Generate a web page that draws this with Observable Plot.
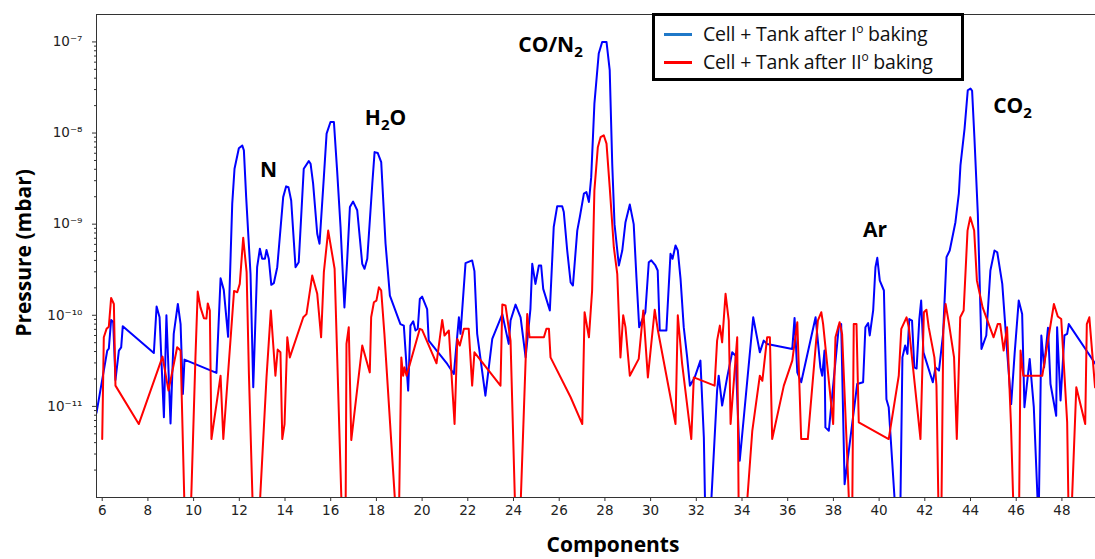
<!DOCTYPE html>
<html>
<head>
<meta charset="utf-8">
<script src="https://cdn.jsdelivr.net/npm/d3@7"></script>
<script src="https://cdn.jsdelivr.net/npm/@observablehq/plot@0.6"></script>
<style>
  body { margin: 0; background: #fff; }
  #chart { position: relative; width: 1095px; height: 559px; overflow: hidden; }
  #legend { position: absolute; left: 652px; top: 13px; width: 306px; height: 62px; border: 3px solid #000; background: #fff;
            font-family: "Open Sans", sans-serif; font-size: 19.5px; color: #111; }
  #legend .row { position: absolute; left: 0; height: 26px; }
  #legend .sw { position: absolute; left: 9px; width: 28px; height: 3px; }
  #legend .lab { position: absolute; left: 48px; top: 0; line-height: 26px; white-space: nowrap; letter-spacing: -0.2px; }
  #legend .sup { font-size: 12px; position: relative; top: -8px; }
</style>
</head>
<body>
<div id="chart"></div>
<script>
// ---- data ----
const seriesNames = ["Cell + Tank after I|o| baking", "Cell + Tank after II|o| baking"];
const seriesColors = ["#0000ff", "#ff0000"];
const legendColors = ["#1f78c8", "#ff0000"];

const blueMass = [5.75,6.22,6.29,6.39,6.48,6.58,6.73,6.83,6.90,8.26,
  8.38,8.51,8.70,8.81,8.99,9.13,9.31,9.43,9.53,9.60,
  11.00,11.18,11.32,11.51,11.69,11.79,11.98,12.13,12.20,12.30,
  12.49,12.61,12.78,12.90,13.00,13.12,13.19,13.29,13.40,13.51,
  13.66,13.92,14.05,14.15,14.27,14.46,14.60,14.82,15.04,15.12,
  15.23,15.41,15.51,15.70,15.82,15.99,16.14,16.28,16.43,16.60,
  16.72,16.84,16.98,17.16,17.38,17.48,17.60,17.82,17.92,18.06,
  18.21,18.40,18.59,19.05,19.20,19.39,19.49,19.61,19.71,19.81,
  19.90,20.00,20.22,20.29,21.10,21.39,21.61,21.68,21.90,22.19,
  22.29,22.41,22.77,23.07,23.51,23.79,23.87,24.09,24.31,24.53,
  24.74,24.82,24.96,25.11,25.21,25.30,25.59,25.76,25.91,26.13,
  26.20,26.35,26.50,26.60,26.79,26.90,27.08,27.19,27.30,27.40,
  27.54,27.73,27.88,28.07,28.21,28.32,28.42,28.61,28.76,28.90,
  29.09,29.26,29.38,29.50,29.77,29.92,30.03,30.21,30.31,30.40,
  30.69,30.87,30.96,31.09,31.19,31.31,31.45,31.60,31.72,31.93,
  32.18,32.33,32.40,32.60,32.91,32.98,33.13,33.35,33.57,33.72,
  33.90,34.49,34.78,34.95,35.10,36.20,36.30,36.42,36.59,37.22,
  37.43,37.51,37.61,37.65,37.80,38.24,38.34,38.49,39.04,39.30,
  39.40,39.52,39.59,39.74,39.84,39.92,40.03,40.21,40.32,40.42,
  40.75,40.92,41.02,41.14,41.24,41.32,41.44,41.54,41.64,41.76,
  41.84,41.94,42.35,42.47,42.62,42.80,42.95,43.09,43.34,43.49,
  43.56,43.74,43.88,44.00,44.07,44.17,44.32,44.48,44.69,44.87,
  45.05,45.17,45.39,45.61,45.78,45.93,46.11,46.26,46.36,46.59,
  46.77,46.98,47.10,47.22,47.39,47.50,47.75,47.79,47.94,48.11,
  48.23,48.30,49.47];
const bluePressure = [8.5e-12,4.1e-11,4.3e-11,8.9e-11,8.5e-11,1.95e-11,4.1e-11,4.45e-11,7.6e-11,3.85e-11,
  1.25e-10,9.5e-11,7.6e-12,1.0e-10,6.5e-12,6.25e-11,1.33e-10,8.0e-11,1.37e-11,3.26e-11,
  2.33e-11,2.55e-10,1.9e-10,5.8e-11,1.67e-9,4.06e-9,6.8e-9,7.3e-9,6.45e-9,1.98e-9,
  2.85e-10,1.62e-11,3.37e-10,5.37e-10,4.17e-10,4.17e-10,5.2e-10,4.17e-10,2.16e-10,2.25e-10,
  3.37e-10,1.98e-9,2.6e-9,2.55e-9,1.82e-9,3.37e-10,3.82e-10,4.06e-9,4.92e-9,4.6e-9,
  2.78e-9,7.85e-10,6.1e-10,3.28e-9,9.85e-9,1.32e-8,1.32e-8,3.89e-9,9.3e-10,1.22e-10,
  4.0e-10,1.54e-9,1.77e-9,1.42e-9,3.67e-10,3.24e-10,4.17e-10,2.78e-9,6.18e-9,6.03e-9,
  4.8e-9,6.1e-10,1.64e-10,8.0e-11,7.7e-11,1.49e-11,7.7e-11,8.6e-11,6.8e-11,7.1e-11,
  1.51e-10,1.6e-10,1.17e-10,5.27e-11,2.92e-11,2.27e-11,9.5e-11,6.25e-11,3.73e-10,4.0e-10,
  3.05e-10,6.25e-11,1.31e-11,5.5e-11,1.03e-10,4.85e-11,8.75e-11,1.31e-10,9.5e-11,3.45e-11,
  1.17e-10,3.67e-10,2.21e-10,3.52e-10,3.52e-10,1.95e-10,1.13e-10,9.3e-10,1.57e-9,1.57e-9,
  1.36e-9,5.14e-10,2.29e-10,2.12e-10,8.5e-10,1.19e-9,2.16e-9,2.25e-9,1.75e-9,3.28e-9,
  2.1e-8,7.46e-8,1.0e-7,1.0e-7,4.89e-8,4.6e-9,1.0e-9,3.52e-10,5.14e-10,1.05e-9,
  1.64e-9,1.0e-9,2.6e-10,7.4e-11,1.08e-10,3.82e-10,4.0e-10,3.52e-10,3.1e-10,6.8e-11,
  6.8e-11,4.73e-10,4.17e-10,5.83e-10,5.14e-10,2.51e-10,7.4e-11,3.45e-11,1.69e-11,2.08e-11,
  3.18e-11,4.56e-12,5e-13,5e-13,1.49e-11,2.17e-11,1.02e-11,2.08e-11,3.92e-11,3.6e-11,
  2.53e-12,9.5e-11,3.92e-11,5.27e-11,4.85e-11,4.27e-11,9.35e-11,2.36e-11,1.84e-11,9.5e-11,
  2.68e-11,2.17e-11,4.1e-11,5.88e-12,5.4e-12,7.7e-11,8.0e-11,1.4e-12,1.76e-11,1.84e-11,
  7.4e-11,8.2e-11,6.0e-11,1.13e-10,3.37e-10,4.27e-10,2.4e-10,1.87e-10,1.2e-11,9.8e-12,
  5e-13,5e-13,3.45e-11,4.65e-11,3.77e-11,9.1e-11,8.75e-11,2.68e-11,2.6e-11,9.1e-11,
  1.45e-10,3.92e-11,1.84e-11,2.68e-11,2.47e-11,6.25e-11,4.34e-10,5.14e-10,1.05e-9,2.16e-9,
  4.42e-9,1.12e-8,2.95e-8,3.08e-8,2.9e-8,9.0e-9,1.3e-9,4.27e-11,6.0e-11,3.1e-10,
  5.14e-10,4.92e-10,2.21e-10,3.77e-11,1.06e-11,3.77e-11,1.45e-10,1.03e-10,9.8e-12,3.32e-11,
  9.8e-12,5e-13,6.0e-11,2.68e-11,7.3e-11,1.76e-11,7.9e-12,7.4e-11,1.16e-11,6.0e-11,
  6.25e-11,8.0e-11,2.92e-11];

const redMass = [6.00,6.07,6.19,6.29,6.39,6.51,6.58,7.60,8.64,8.90,
  9.28,9.43,9.62,9.86,10.08,10.18,10.30,10.45,10.56,10.62,
  10.71,10.78,11.18,11.30,11.77,11.91,12.02,12.17,12.32,12.42,
  12.61,12.85,13.19,13.38,13.58,13.68,13.80,13.88,13.98,14.10,
  14.21,14.80,14.94,15.19,15.41,15.58,15.70,15.89,16.17,16.50,
  16.65,16.69,16.79,16.90,17.38,17.71,17.77,17.89,18.00,18.11,
  18.21,18.35,18.88,18.98,19.09,19.17,19.23,19.32,19.90,20.00,
  20.63,20.88,20.98,21.17,21.42,21.54,21.65,21.83,22.04,22.19,
  22.29,23.43,23.51,23.65,23.87,24.09,24.28,24.60,24.70,25.33,
  25.44,25.55,25.62,26.50,27.01,27.11,27.30,27.44,27.54,27.69,
  27.81,27.95,28.07,28.21,28.39,28.54,28.68,28.80,28.90,29.09,
  29.48,29.68,29.88,30.18,30.32,31.09,31.19,31.38,31.78,31.89,
  32.80,32.91,33.03,33.13,33.28,33.42,33.50,33.79,33.86,34.15,
  34.45,34.78,34.89,35.10,35.22,35.32,35.83,36.20,36.42,36.59,
  36.88,37.32,37.47,37.55,37.99,38.09,38.27,38.38,38.60,38.72,
  38.82,38.89,39.01,39.11,40.42,40.86,40.97,41.20,41.30,41.81,
  41.96,42.07,42.17,42.42,42.51,42.61,42.72,42.81,42.91,43.06,
  43.28,43.40,43.55,43.70,43.87,43.99,44.16,44.28,44.53,45.01,
  45.19,45.30,45.45,45.60,45.77,45.90,46.12,46.19,46.31,47.14,
  47.65,47.82,47.97,48.23,48.30,48.40,48.63,49.02,49.09,49.20,
  49.45];
const redPressure = [4.38e-12,5.73e-11,7.1e-11,7.5e-11,1.55e-10,1.33e-10,1.69e-11,6.4e-12,3.52e-11,1.49e-11,
  4.45e-11,4.1e-11,5e-13,5e-13,3.43e-11,1.82e-10,1.22e-10,9.3e-11,9.2e-11,1.35e-10,
  1.13e-10,4.38e-12,2.17e-11,4.38e-12,1.85e-10,1.79e-10,2.21e-10,7.1e-10,2.97e-10,2.27e-11,
  5e-13,5e-13,2.08e-11,1.13e-10,2.17e-11,4.2e-11,3.92e-11,4.38e-12,6.4e-12,5.73e-11,
  3.45e-11,9.5e-11,1.03e-10,2.73e-10,1.72e-10,5.73e-11,2.97e-10,8.5e-10,3.24e-10,5e-13,
  5e-13,4.85e-11,7.4e-11,4.27e-12,4.65e-11,2.36e-11,9.5e-11,1.39e-10,1.45e-10,2.03e-10,
  1.87e-10,6.25e-11,5e-13,5e-13,3.45e-11,2.17e-11,2.68e-11,2.17e-11,7.1e-11,6.9e-11,
  2.97e-11,8.9e-11,6.0e-11,6.8e-11,6.4e-12,5.5e-11,4.65e-11,7.1e-11,7.1e-11,1.69e-11,
  3.92e-11,1.69e-11,1.31e-10,1.28e-10,5.27e-11,5e-13,5e-13,1.03e-10,5.73e-11,5.73e-11,
  7.1e-11,7.1e-11,3.45e-11,1.26e-11,6.4e-12,1.08e-10,5.73e-11,1.87e-10,2.35e-9,7.0e-9,
  9.0e-9,9.45e-9,7.65e-9,2.55e-9,5.58e-10,2.85e-10,3.45e-11,1.0e-10,7.4e-11,2.17e-11,
  3.32e-11,1.13e-10,2.08e-11,1.15e-10,6.8e-11,6.4e-12,1.0e-10,2.92e-11,4.38e-12,2.08e-11,
  1.69e-11,5.27e-11,7.7e-11,5.05e-11,1.72e-10,8.75e-11,6.4e-12,5.73e-11,5e-13,5e-13,
  5.4e-12,2.17e-11,1.91e-11,5.73e-11,5.73e-11,4.38e-12,1.69e-11,3.18e-11,8.4e-11,4.38e-12,
  4.38e-12,8.75e-11,1.08e-10,8.0e-11,6.4e-12,5.73e-11,8.4e-11,6.25e-11,3.0e-12,5e-13,
  5e-13,8.0e-11,8.0e-11,6.67e-12,4.38e-12,2.17e-11,7.1e-11,9.5e-11,7.4e-11,4.38e-12,
  1.08e-10,1.15e-10,7.4e-11,3.45e-11,1.69e-11,5e-13,5e-13,6.8e-11,1.33e-10,8.0e-11,
  3.45e-11,4.38e-12,9.5e-11,1.13e-10,8.5e-10,1.19e-9,8.5e-10,2.4e-10,1.22e-10,5.73e-11,
  8.0e-11,8.0e-11,4.1e-11,7.4e-11,6.4e-12,5e-13,5e-13,4.1e-11,2.17e-11,2.17e-11,
  1.33e-10,9.7e-11,9.1e-11,6.67e-12,5e-13,5e-13,1.62e-11,6.4e-12,8.0e-11,9.5e-11,
  1.62e-11];

const peakLabels = ["N", "H₂O", "CO/N₂", "Ar", "CO₂"];
const peakMass = [13.28, 18.40, 25.62, 39.82, 45.84];
const peakPressure = [3.9e-9, 1.45e-8, 9.2e-8, 8.5e-10, 1.96e-8];

const xTicks = [6,8,10,12,14,16,18,20,22,24,26,28,30,32,34,36,38,40,42,44,46,48];
const yTicks = [1e-11, 1e-10, 1e-9, 1e-8, 1e-7];
const minorMultipliers = [2,3,4,5,6,7,8,9];
const xLabel = "Components";
const yLabel = "Pressure (mbar)";

// ---- build tables ----
const blue = blueMass.map((m, i) => ({mass: m, p: bluePressure[i]}));
const red = redMass.map((m, i) => ({mass: m, p: redPressure[i]}));
const peaks = peakLabels.map((t, i) => ({t, mass: peakMass[i], p: peakPressure[i]}));
const minorTicks = [1e-12, ...yTicks].flatMap(d => minorMultipliers.map(k => k * d)).filter(v => v < 2e-7);

const sup = {"-": "⁻", "0": "⁰", "1": "¹", "2": "²", "3": "³", "4": "⁴", "5": "⁵", "6": "⁶", "7": "⁷", "8": "⁸", "9": "⁹"};
const fmtPow = d => "10" + String(Math.round(Math.log10(d))).split("").map(c => sup[c]).join("");

const chart = Plot.plot({
  width: 1095,
  height: 559,
  marginLeft: 96,
  marginRight: 0,
  marginTop: 14,
  marginBottom: 62,
  style: {fontFamily: "DejaVu Sans", fontSize: "13.5px", color: "#222", background: "#fff"},
  x: {domain: [5.75, 49.47], label: null},
  y: {type: "log", domain: [1e-12, 2e-7], label: null},
  marks: [
    Plot.axisX({ticks: xTicks, tickSize: 4, tickPadding: 4, tickFormat: d => String(d), label: null, stroke: "#333", fill: "#222"}),
    Plot.axisY({ticks: yTicks, tickSize: 4, tickPadding: 10, tickFormat: fmtPow, label: null, stroke: "#333", fill: "#222"}),
    Plot.axisY({ticks: minorTicks, tickSize: 2, fill: "none", label: null, stroke: "#333"}),
    Plot.line(blue, {x: "mass", y: "p", stroke: seriesColors[0], strokeWidth: 2, clip: true}),
    Plot.line(red, {x: "mass", y: "p", stroke: seriesColors[1], strokeWidth: 2, clip: true}),
    Plot.frame({stroke: "#333", strokeWidth: 1}),
    Plot.text(peaks, {x: "mass", y: "p", text: "t", fontFamily: "Open Sans", fontWeight: 700, fontSize: 21, fill: "#000"}),
    Plot.text([xLabel], {frameAnchor: "bottom", textAnchor: "middle", dx: 17, dy: 54, fontFamily: "Open Sans", fontWeight: 700, fontSize: 21, fill: "#000"}),
    Plot.text([yLabel], {frameAnchor: "left", textAnchor: "middle", rotate: -90, dx: -72, dy: -3, fontFamily: "Open Sans", fontWeight: 700, fontSize: 21, fill: "#000"})
  ]
});

// subscripts for chemical formulas
const NS = "http://www.w3.org/2000/svg";
chart.querySelectorAll('g[aria-label="text"] text').forEach(el => {
  const s = el.textContent;
  if (!s.includes("₂")) return;
  const parts = s.split("₂");
  el.textContent = "";
  parts.forEach((p, i) => {
    if (p) {
      const t = document.createElementNS(NS, "tspan");
      t.textContent = p;
      if (i > 0) t.setAttribute("dy", "-5");
      el.appendChild(t);
    }
    if (i < parts.length - 1) {
      const t = document.createElementNS(NS, "tspan");
      t.textContent = "2";
      t.setAttribute("dy", "5");
      t.setAttribute("font-size", "15");
      el.appendChild(t);
    }
  });
});

const root = document.getElementById("chart");
root.appendChild(chart);

// legend (overlaid inside the plot area, as in the reference)
const legend = document.createElement("div");
legend.id = "legend";
seriesNames.forEach((name, i) => {
  const row = document.createElement("div");
  row.className = "row";
  row.style.top = (5 + i * 28) + "px";
  row.style.width = "300px";
  const sw = document.createElement("div");
  sw.className = "sw";
  sw.style.top = "12px";
  sw.style.background = legendColors[i];
  const lab = document.createElement("div");
  lab.className = "lab";
  const [a, o, b] = name.split("|");
  lab.innerHTML = a + '<span class="sup">' + o + '</span>' + b;
  row.appendChild(sw);
  row.appendChild(lab);
  legend.appendChild(row);
});
root.appendChild(legend);
</script>
</body>
</html>
